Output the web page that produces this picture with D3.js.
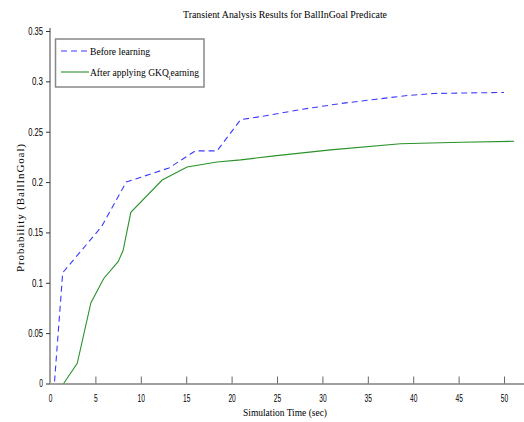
<!DOCTYPE html>
<html lang="en">
<head>
  <meta charset="utf-8">
  <title>Transient Analysis</title>
  <style>
  * { margin:0; padding:0; }
  body { background: #fff; }
  svg text { fill: #000; }
  .tick text { font-family: "Liberation Sans Narrow", "Liberation Sans", Arial, sans-serif; font-size: 10.5px; }
  .serif { font-family: "Liberation Serif", "DejaVu Serif", serif; }
  </style>
  <script src="https://d3js.org/d3.v7.min.js"></script>
</head>
<body>
  <div id="chart"></div>
  <script type="text/javascript">
    var W = 524, H = 422;

    // data
    var beforeTime = [0.5, 1.4, 5.7, 8.4, 13.1, 16, 18.4, 21, 23.2, 27.6, 32, 35.7, 39.4, 42.3, 50];
    var beforeProb = [0.002, 0.11, 0.156, 0.2, 0.214, 0.231, 0.231, 0.262, 0.265, 0.272, 0.278, 0.282, 0.286, 0.288, 0.289];
    var afterTime = [1.5, 3, 4.5, 5.9, 7.5, 8.05, 8.9, 12.35, 15.1, 18.4, 21, 24.7, 30.9, 38.6, 45.3, 51.1];
    var afterProb = [0, 0.02, 0.08, 0.104, 0.121, 0.132, 0.17, 0.202, 0.215, 0.22, 0.222, 0.226, 0.232, 0.238, 0.2395, 0.2405];
    var xTicks = [0, 5, 10, 15, 20, 25, 30, 35, 40, 45, 50];
    var yTicks = [0, 0.05, 0.1, 0.15, 0.2, 0.25, 0.3, 0.35];
    var legendNames = ["Before learning", "After applying GKQ"];

    var svg = d3.select("#chart").append("svg")
      .attr("width", W).attr("height", H);

    var x = d3.scaleLinear().domain([0, 52.2]).range([50, 524]);
    var y = d3.scaleLinear().domain([0, 0.35]).range([383.5, 31]);

    // narrow tick labels like the original
    function narrow(sel) {
      sel.selectAll(".tick text").each(function(){
        var t = d3.select(this), s = t.text();
        t.attr("textLength", s.length * 3.7).attr("lengthAdjust", "spacingAndGlyphs");
      });
    }

    // x axis: ticks pointing up
    var gx = svg.append("g").attr("transform", "translate(0," + y(0) + ")")
      .call(d3.axisBottom(x).tickValues(xTicks).tickSizeInner(-7).tickSizeOuter(0).tickPadding(11).tickFormat(d3.format("d")));
    gx.select(".domain").attr("stroke", "#a0a0a0").attr("stroke-width", 2);
    gx.selectAll(".tick line").attr("stroke", "#666");
    narrow(gx);

    // y axis: ticks pointing left
    var gy = svg.append("g").attr("transform", "translate(" + x(0) + ",0)")
      .call(d3.axisLeft(y).tickValues(yTicks).tickSizeInner(4).tickSizeOuter(0).tickPadding(3).tickFormat(function(d){ return d == 0 ? "0" : String(+d.toFixed(2)); }));
    gy.select(".domain").attr("stroke", "#a0a0a0").attr("stroke-width", 2).attr("d", "M0," + (y(0)+1) + "V28");
    gy.selectAll(".tick line").attr("stroke", "#333");
    narrow(gy);

    var line = d3.line().x(function(d){ return x(d[0]); }).y(function(d){ return y(d[1]); });

    svg.append("path")
      .datum(beforeTime.map(function(t, i){ return [t, beforeProb[i]]; }))
      .attr("d", line).attr("fill", "none")
      .attr("stroke", "#3a3aff").attr("stroke-width", 1.1).attr("stroke-dasharray", "6,4");

    svg.append("path")
      .datum(afterTime.map(function(t, i){ return [t, afterProb[i]]; }))
      .attr("d", line).attr("fill", "none")
      .attr("stroke", "#2a922a").attr("stroke-width", 1.1);

    // title and axis labels
    svg.append("text").attr("class", "serif")
      .attr("x", 285).attr("y", 18).attr("text-anchor", "middle")
      .attr("font-size", 11).attr("textLength", 204).attr("lengthAdjust", "spacingAndGlyphs")
      .text("Transient Analysis Results for BallInGoal Predicate");

    svg.append("text").attr("class", "serif")
      .attr("x", 285).attr("y", 416).attr("text-anchor", "middle")
      .attr("font-size", 11).attr("textLength", 84).attr("lengthAdjust", "spacingAndGlyphs")
      .text("Simulation Time (sec)");

    svg.append("text").attr("class", "serif")
      .attr("transform", "translate(24,208) rotate(-90)").attr("text-anchor", "middle")
      .attr("font-size", 11).attr("textLength", 128).attr("lengthAdjust", "spacing")
      .text("Probability (BallInGoal)");

    // legend
    var lg = svg.append("g");
    lg.append("rect").attr("x", 55.5).attr("y", 39).attr("width", 148.5).attr("height", 48)
      .attr("fill", "#fff").attr("stroke", "#888").attr("stroke-width", 1.5);
    var legendColors = ["#3a3aff", "#2a922a"];
    var legendDash = ["6,4", null];
    legendNames.forEach(function(n, i){
      var ly = 51 + i * 21;
      lg.append("line").attr("x1", 61).attr("x2", 89).attr("y1", ly).attr("y2", ly)
        .attr("stroke", legendColors[i]).attr("stroke-width", 1.1)
        .attr("stroke-dasharray", legendDash[i]);
      var t = lg.append("text").attr("class", "serif").attr("x", 90).attr("y", ly + 4)
        .attr("font-size", 11).attr("lengthAdjust", "spacingAndGlyphs");
      t.append("tspan").text(n);
      if (i == 0) {
        t.attr("textLength", 60);
      } else {
        // "learning" with the l dropped low, as in the picture
        t.append("tspan").attr("font-size", 7).attr("dy", 4).text("l");
        t.append("tspan").attr("dy", -4).text("earning");
        t.attr("textLength", 109);
      }
    });
  </script>
</body>
</html>
